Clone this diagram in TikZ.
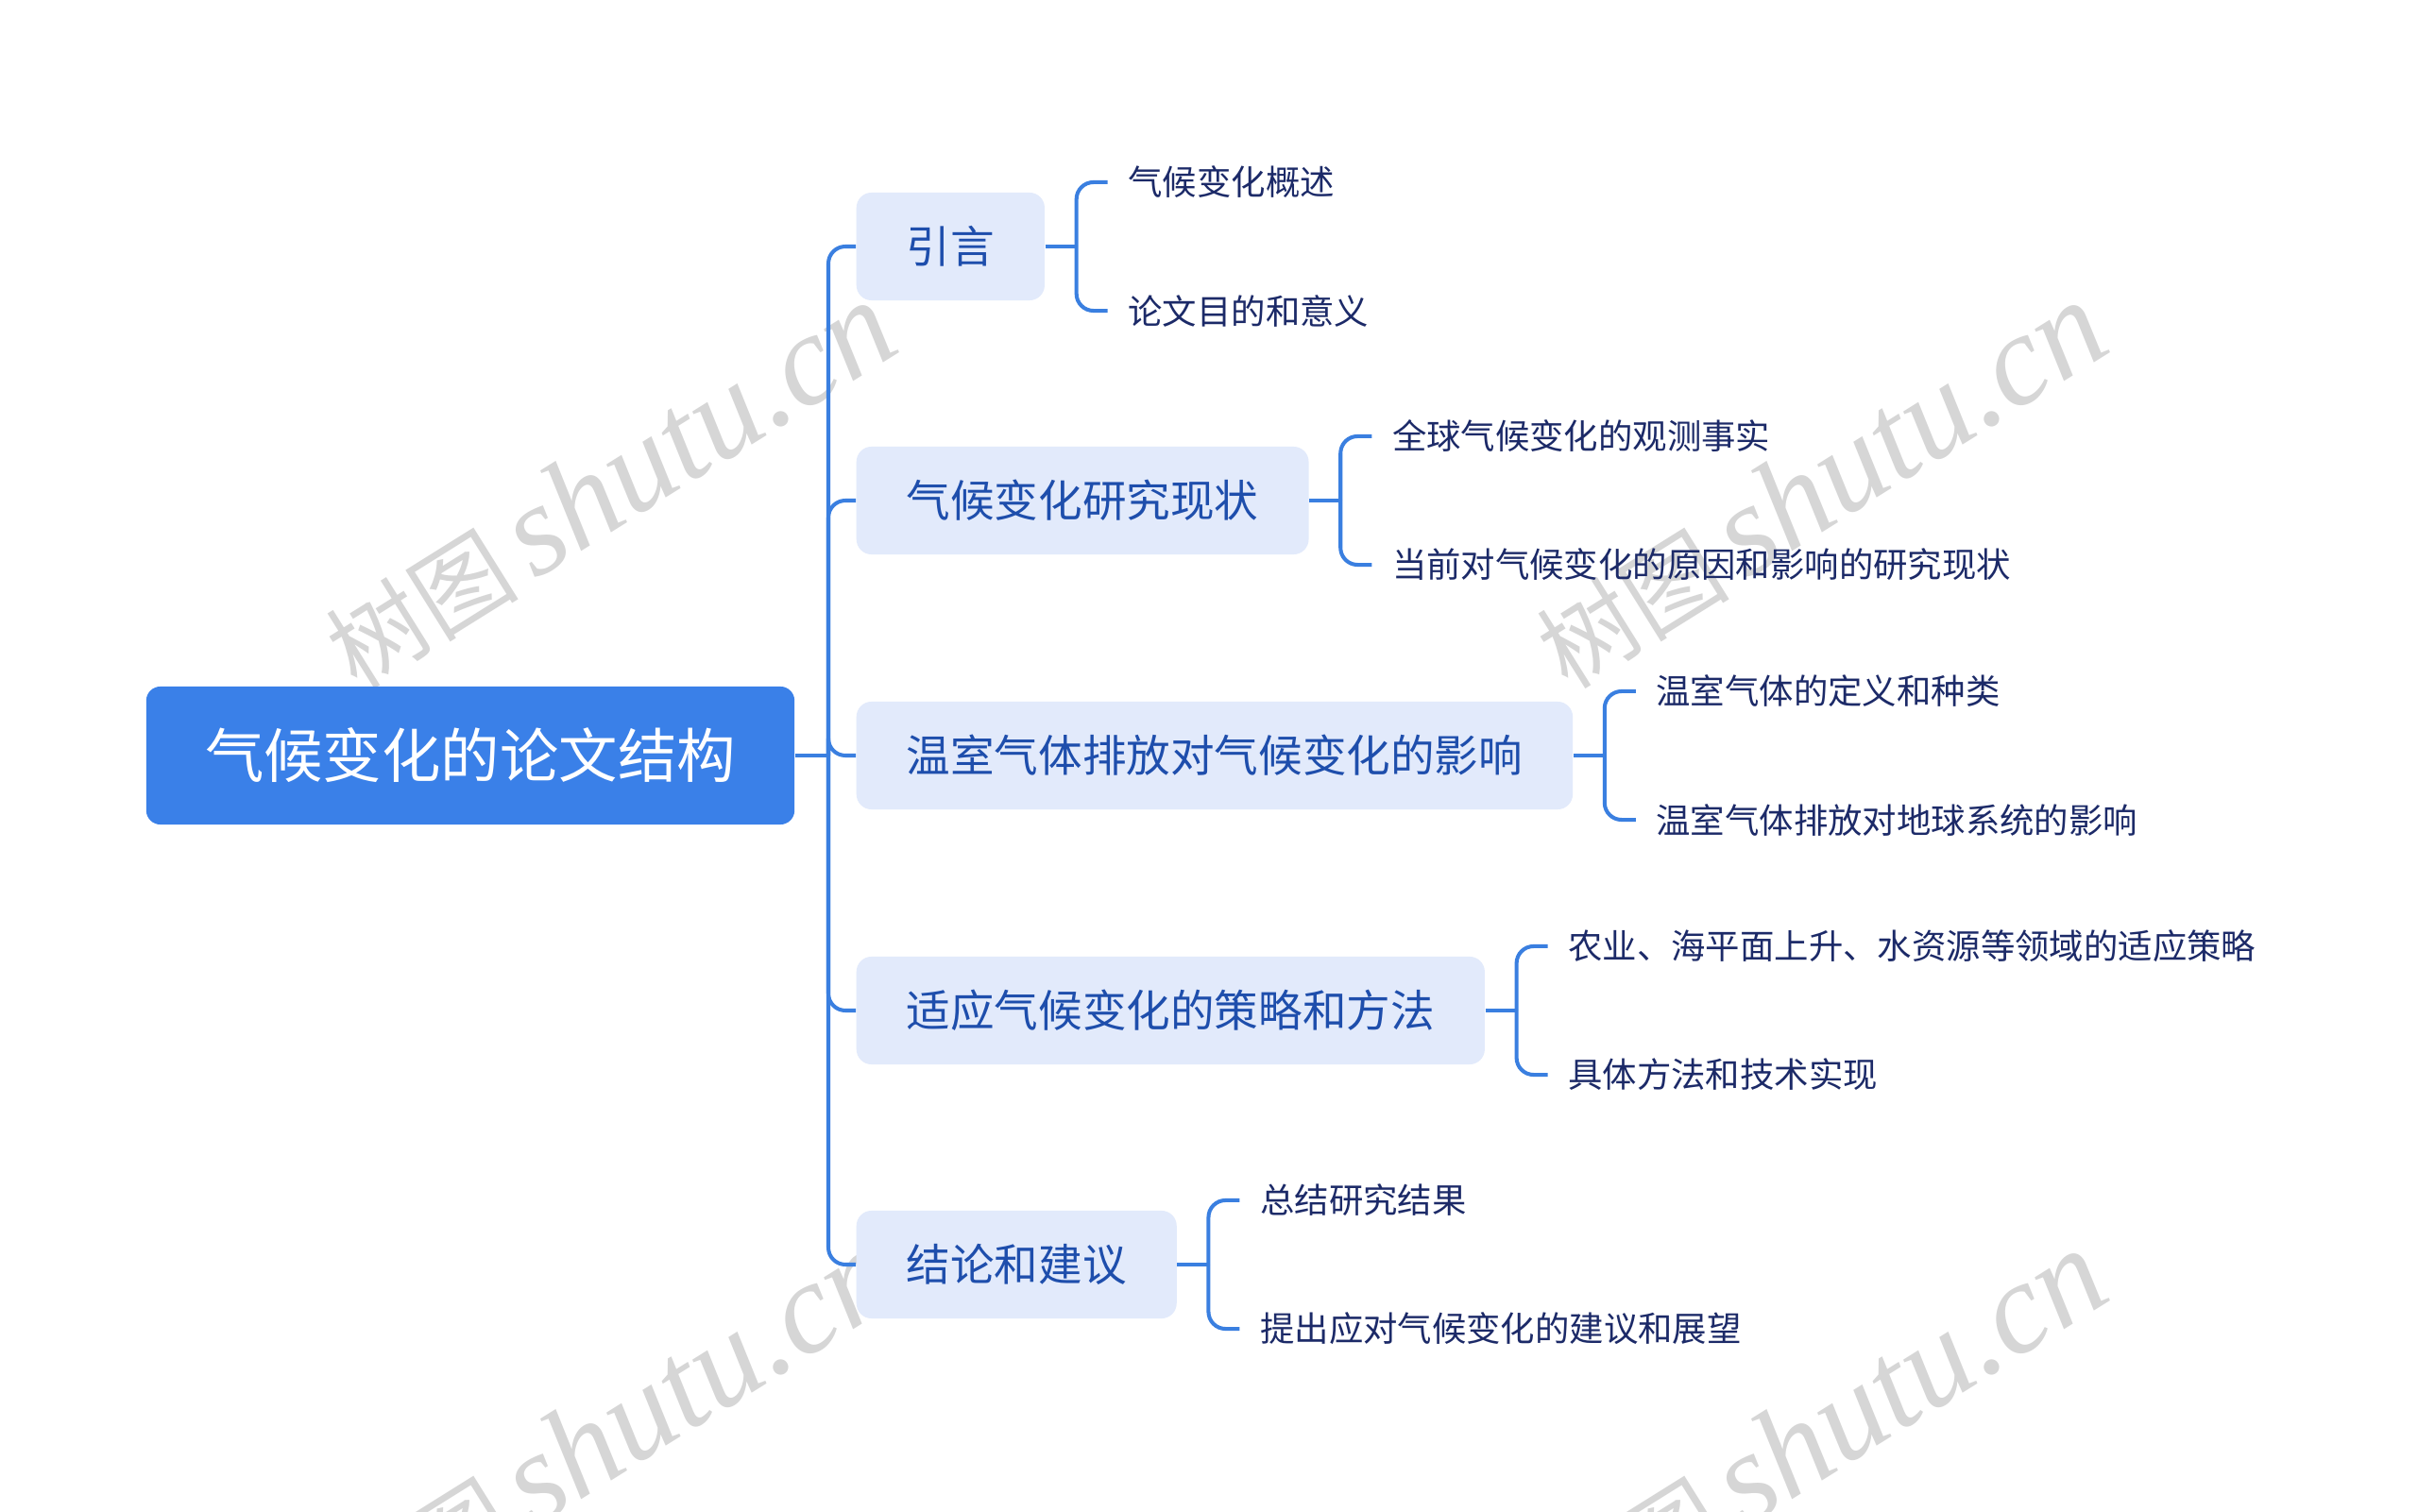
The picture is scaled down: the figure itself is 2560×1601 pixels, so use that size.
\documentclass[tikz,border=0pt]{standalone}
\usepackage{fontspec}
\setmainfont{Noto Sans CJK SC}
\newfontfamily\wmlat{Liberation Serif}
\definecolor{rootblue}{RGB}{58,128,232}
\definecolor{topicfill}{RGB}{226,234,251}
\definecolor{topictext}{RGB}{30,78,172}
\definecolor{leaftext}{RGB}{28,42,104}
\definecolor{linkblue}{RGB}{58,127,224}
\definecolor{wmgray}{RGB}{214,214,214}
\tikzset{
  rootbox/.style={fill=rootblue, rounded corners=0.15cm, text=white,
    font=\fontsize{17.75pt}{20pt}\selectfont, minimum width=6.86cm,
    minimum height=1.46cm, inner sep=0pt},
  topicbox/.style={fill=topicfill, rounded corners=0.16cm, text=topictext,
    font=\fontsize{13.25pt}{16pt}\selectfont, minimum height=1.14cm,
    inner xsep=0.53cm, inner ysep=0pt, anchor=west},
  leaf/.style={text=leaftext, font=\fontsize{10.35pt}{12pt}\selectfont,
    anchor=west, inner xsep=0.21cm, inner ysep=0pt},
  link/.style={draw=linkblue, line width=1.15pt, rounded corners=0.18cm},
  wmark/.style={text=wmgray, rotate=32, inner sep=0pt},
}
\begin{document}
\begin{tikzpicture}[x=0.01cm, y=-0.01cm]
\useasboundingbox (0,0) rectangle (2560,1601);
\fill[white] (0,0) rectangle (2560,1601);

% watermarks
\foreach \wx/\wy [count=\i] in {645/514, 1927/514, 645/1518, 1927/1518}{
  \node[wmark] (wm\i) at (\wx,\wy) {\fontsize{29pt}{31pt}\selectfont 树图\,\wmlat\itshape\fontsize{39pt}{41pt}\selectfont shutu.cn};
}

% root
\node[rootbox] (root) at (498,800) {气候变化的论文结构};

% topics
\node[topicbox] (t1) at (906,261) {引言};
\node[topicbox] (t2) at (906,530) {气候变化研究现状};
\node[topicbox] (t3) at (906,800) {温室气体排放对气候变化的影响};
\node[topicbox] (t4) at (906,1070) {适应气候变化的策略和方法};
\node[topicbox] (t5) at (906,1339) {结论和建议};

% trunk
\coordinate (tr) at (877,800);
\draw[link] (root.east) -- (tr);
\foreach \t in {t1,t2,t3,t4,t5}{
  \draw[link] (tr) |- (\t.west);
}

% leaves
\node[leaf] (l11) at ([xshift=0.66cm,yshift=0.68cm]t1.east) {气候变化概述};
\node[leaf] (l12) at ([xshift=0.66cm,yshift=-0.68cm]t1.east) {论文目的和意义};
\node[leaf] (l21) at ([xshift=0.66cm,yshift=0.68cm]t2.east) {全球气候变化的观测事实};
\node[leaf] (l22) at ([xshift=0.66cm,yshift=-0.68cm]t2.east) {当前对气候变化的原因和影响的研究现状};
\node[leaf] (l31) at ([xshift=0.66cm,yshift=0.68cm]t3.east) {温室气体的定义和种类};
\node[leaf] (l32) at ([xshift=0.66cm,yshift=-0.68cm]t3.east) {温室气体排放对地球系统的影响};
\node[leaf] (l41) at ([xshift=0.66cm,yshift=0.68cm]t4.east) {农业、海平面上升、水资源等领域的适应策略};
\node[leaf] (l42) at ([xshift=0.66cm,yshift=-0.68cm]t4.east) {具体方法和技术实现};
\node[leaf] (l51) at ([xshift=0.66cm,yshift=0.68cm]t5.east) {总结研究结果};
\node[leaf] (l52) at ([xshift=0.66cm,yshift=-0.68cm]t5.east) {提出应对气候变化的建议和展望};

% brackets
\foreach \n in {1,...,5}{
  \draw[link] (t\n.east) -- ++(33,0) coordinate (j\n);
  \draw[link] (j\n) |- (l\n1.west);
  \draw[link] (j\n) |- (l\n2.west);
}
\end{tikzpicture}
\end{document}
